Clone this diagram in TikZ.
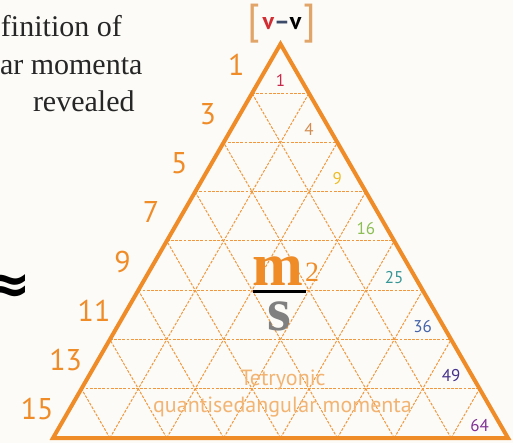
\documentclass[tikz,border=0pt]{standalone}
\usepackage{fontspec}
\usepackage{xcolor}
\definecolor{paper}{RGB}{252,251,247}
\definecolor{tetorange}{RGB}{240,140,40}
\definecolor{tetlight}{RGB}{242,180,115}
\definecolor{brkorange}{RGB}{226,165,105}
\definecolor{nured}{RGB}{210,45,50}
\definecolor{nudash}{RGB}{60,75,105}
\definecolor{sqone}{RGB}{200,40,75}
\definecolor{sqfour}{RGB}{210,140,80}
\definecolor{sqnine}{RGB}{238,190,40}
\definecolor{sqsixteen}{RGB}{140,190,85}
\definecolor{sqtwentyfive}{RGB}{55,150,150}
\definecolor{sqthirtysix}{RGB}{70,100,170}
\definecolor{sqfortynine}{RGB}{70,50,140}
\definecolor{sqsixtyfour}{RGB}{130,50,150}
\newfontfamily\numfont{PT Sans}
\newfontfamily\unitfont{Liberation Serif}
\newfontfamily\symfont{DejaVu Sans}
\usetikzlibrary{positioning,calc}

\begin{document}
\begin{tikzpicture}[x=1pt, y=-1pt, every node/.style={inner sep=0pt, outer sep=0pt},
  rownum/.style={text=tetorange, font=\numfont\fontsize{30}{30}\selectfont},
  sqnum/.style={font=\numfont\fontsize{17}{17}\selectfont},
  toptext/.style={anchor=base west, text=black!85, font=\unitfont\fontsize{30}{30}\selectfont},
  caption/.style={anchor=base, text=tetlight, font=\numfont\fontsize{22}{22}\selectfont},
  bracket/.style={text=brkorange, font=\numfont\fontsize{42}{42}\selectfont},
  grid/.style={tetorange!90, line width=1pt, dash pattern=on 2.8pt off 1.4pt},
  edge/.style={tetorange, line width=4pt, line join=miter}]
\fill[paper] (0,0) rectangle (513,443);
\useasboundingbox (0,0) rectangle (513,443);
% Corners
\coordinate (A) at (53,438);
\coordinate (B) at (508,438);
\coordinate (C) at (280.5,44);
% Grid
\foreach \i in {1,...,7} {
  \draw[grid] ($(C)!{\i/8}!(A)$) -- ($(C)!{\i/8}!(B)$);
  \draw[grid] ($(A)!{\i/8}!(B)$) -- ($(A)!{\i/8}!(C)$);
  \draw[grid] ($(A)!{\i/8}!(B)$) -- ($(B)!{1-\i/8}!(C)$);
}
\draw[edge] (A) -- (B) -- (C) -- cycle;
% Odd numbers
\foreach \k/\n in {1/1,2/3,3/5,4/7,5/9,6/11,7/13,8/15}
  \node[rownum] (odd\k) at ($(C)!{(\k-0.5)/8}!(A) + (-30,-4)$) {\n};
% Squares
\foreach \k/\n/\c in {1/1/sqone,2/4/sqfour,3/9/sqnine,4/16/sqsixteen,5/25/sqtwentyfive,6/36/sqthirtysix,7/49/sqfortynine,8/64/sqsixtyfour}
  \node[sqnum, text=\c] (sq\k) at ($(C)!{(3*\k-1)/24}!(B) + (-19,3.5)$) {\n};
% Top label
\node[font=\numfont\bfseries\fontsize{24}{24}\selectfont] (nu) at (282,24) {\textcolor{nured}{v}\textcolor{nudash}{–}v};
\node[bracket, left=2pt of nu] (lbr) {[};
\node[bracket, right=2pt of nu] (rbr) {]};
% Unit
\node[anchor=base, text=tetorange, font=\unitfont\bfseries\fontsize{61}{61}\selectfont] (mass) at (278,285) {m};
\node[anchor=base west, text=tetorange, font=\unitfont\fontsize{28}{28}\selectfont] (pow) at (305,281) {2};
\draw[black, line width=3pt] (253,291) -- (306,291);
\node[anchor=base, text=black!50, font=\unitfont\bfseries\fontsize{61}{61}\selectfont] (sec) at (279.5,330) {s};
% Caption
\node[caption] (tet) at (283,385) {Tetryonic};
\node[caption] (qam) at (282.5,412) {quantisedangular momenta};
% Side text
\node[toptext] (def1) at (1,37) {finition of};
\node[toptext] (def2) at (0,75) {ar momenta};
\node[toptext] (def3) at (33,112) {revealed};
\node[anchor=east, font=\symfont\bfseries\fontsize{56}{56}\selectfont] (approx) at (31,289.5) {≈};
\end{tikzpicture}
\end{document}
